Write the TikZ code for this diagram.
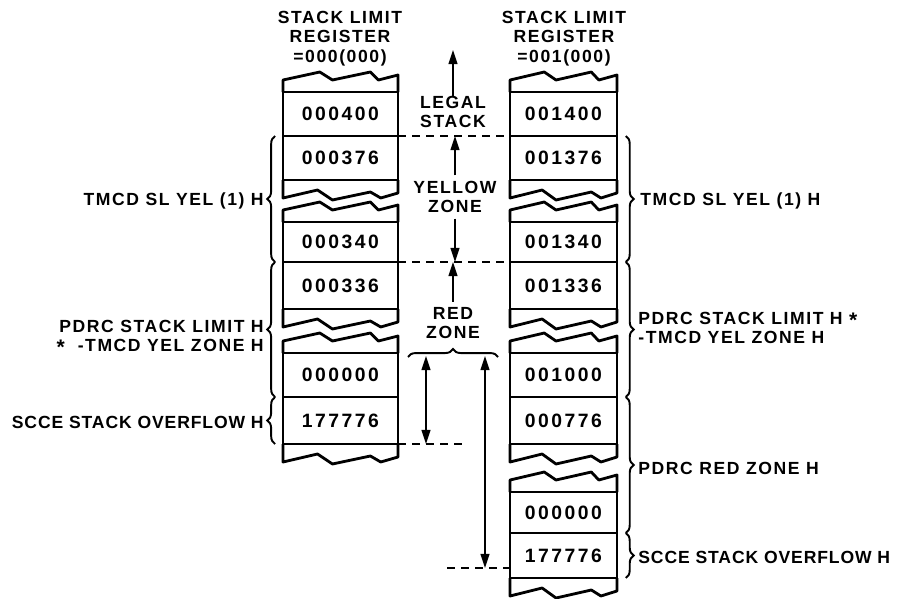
\documentclass[tikz,border=0pt]{standalone}
\usepackage{fontspec}
\setmainfont{Liberation Sans}[LetterSpace=9]
\newfontfamily\numfam{Liberation Sans}[LetterSpace=13]
\newfontfamily\tightfam{Liberation Sans}[LetterSpace=5]
\usetikzlibrary{arrows.meta,calc,decorations.pathreplacing}

\tikzset{
  col/.style={line width=1.6pt, line join=round},
  cell/.style={draw, line width=1.6pt, inner sep=0pt, outer sep=0pt,
    font=\numfam\bfseries\fontsize{11}{12}\selectfont},
  lcell/.style={cell, minimum width=2.3cm},
  rcell/.style={cell, minimum width=2.14cm},
  lbl/.style={font=\bfseries\fontsize{10}{11}\selectfont, inner sep=0pt},
  limit/.style={dash pattern=on 4.5pt off 3.5pt, line width=1.1pt},
  arr/.style={line width=1.1pt, -{Triangle[length=8pt,width=5pt]}},
  darr/.style={line width=1.1pt, {Triangle[length=8pt,width=5pt]}-{Triangle[length=8pt,width=5pt]}},
  brc/.style={decorate, decoration={brace, amplitude=4.5pt}, line width=1.1pt},
}

% torn edge below a cell
\newcommand{\brkbot}[1]{%
  \draw[col] (#1.south west) -- ++(0,18)
    -- ($(#1.south west)!.30!(#1.south east)+(0,10)$)
    -- ($(#1.south west)!.43!(#1.south east)+(0,20)$)
    -- ($(#1.south west)!.76!(#1.south east)+(0,12)$)
    -- ($(#1.south west)!.85!(#1.south east)+(0,18)$)
    -- ($(#1.south east)+(0,13)$) -- (#1.south east);}
% torn edge above a cell
\newcommand{\brktop}[1]{%
  \draw[col] (#1.north west) -- ++(0,-12)
    -- ($(#1.north west)!.32!(#1.north east)+(0,-20)$)
    -- ($(#1.north west)!.43!(#1.north east)+(0,-12)$)
    -- ($(#1.north west)!.76!(#1.north east)+(0,-20)$)
    -- ($(#1.north west)!.83!(#1.north east)+(0,-12)$)
    -- ($(#1.north east)+(0,-17)$) -- (#1.north east);}

\begin{document}
\begin{tikzpicture}[x=0.02cm, y=-0.02cm]
  \useasboundingbox (0,0) rectangle (907,599);

  % headers
  \node[lbl, align=center] (lhead) at (340,38.5) {STACK LIMIT\\REGISTER\\=000(000)};
  \node[lbl, align=center] (rhead) at (564,38.5) {STACK LIMIT\\REGISTER\\=001(000)};

  % left stack
  \node[lcell, minimum height=0.88cm] (L400) at (340.5,114) {000400};
  \node[lcell, minimum height=0.88cm] (L376) at (340.5,158) {000376};
  \node[lcell, minimum height=0.80cm] (L340) at (340.5,242) {000340};
  \node[lcell, minimum height=0.94cm] (L336) at (340.5,285.5) {000336};
  \node[lcell, minimum height=0.88cm] (L000) at (340.5,375) {000000};
  \node[lcell, minimum height=0.94cm] (L776) at (340.5,420.5) {177776};
  \brktop{L400} \brkbot{L376} \brktop{L340}
  \brkbot{L336} \brktop{L000} \brkbot{L776}

  % right stack
  \node[rcell, minimum height=0.88cm] (R400) at (563.5,114) {001400};
  \node[rcell, minimum height=0.88cm] (R376) at (563.5,158) {001376};
  \node[rcell, minimum height=0.80cm] (R340) at (563.5,242) {001340};
  \node[rcell, minimum height=0.94cm] (R336) at (563.5,285.5) {001336};
  \node[rcell, minimum height=0.88cm] (R000) at (563.5,375) {001000};
  \node[rcell, minimum height=0.94cm] (R776) at (563.5,420.5) {000776};
  \node[rcell, minimum height=0.82cm] (R0) at (563.5,512.5) {000000};
  \node[rcell, minimum height=0.90cm] (R7) at (563.5,555.5) {177776};
  \brktop{R400} \brkbot{R376} \brktop{R340} \brkbot{R336}
  \brktop{R000} \brkbot{R776} \brktop{R0} \brkbot{R7}

  % zone limits
  \draw[limit] (L400.south east) -- coordinate (ylim) (R400.south west);
  \draw[limit] (L340.south east) -- coordinate (rlim) (R340.south west);
  \draw[limit] (L776.south east) -- ++(64,0) coordinate (ovl);
  \coordinate (rzd) at (447,568);
  \draw[limit] (rzd) -- (rzd -| R7.west);

  % zone names
  \node[lbl, align=center] (legal) at (453,112) {LEGAL\\STACK};
  \node[lbl, align=center] (yellow) at (455,197) {YELLOW\\ZONE};
  \node[lbl, align=center] (redz) at (453,323) {RED\\ZONE};
  \coordinate (stacktop) at (453,50);
  \draw[arr] (legal.north) -- (legal.north |- stacktop);
  \draw[arr, shorten <=3pt] (yellow.north) -- (yellow.north |- ylim);
  \draw[arr, shorten <=3pt] (yellow.south) -- (yellow.south |- rlim);
  \draw[arr, shorten <=3pt] (redz.north) -- (redz.north |- rlim);

  \coordinate (rzl) at (408,357);
  \coordinate (rzr) at (498,357);
  \draw[brc] (rzl) -- (rzr);
  \coordinate (ovt) at (426,356);
  \draw[darr] (ovt) -- (ovt |- ovl);
  \coordinate (rzt) at (485,356);
  \draw[darr] (rzt) -- (rzt |- rzd);

  % left braces and labels
  \draw[brc] ([xshift=-4.5pt]L340.south west) -- ([xshift=-4.5pt]L376.north west);
  \draw[brc] ([xshift=-4.5pt]L000.south west) -- ([xshift=-4.5pt]L336.north west);
  \draw[brc] ([xshift=-4.5pt]L776.south west) -- ([xshift=-4.5pt]L776.north west);
  \node[lbl, anchor=east] (ltmcd) at (264,201) {TMCD SL YEL (1) H};
  \node[lbl, anchor=east, align=right] (lpdrc) at (264,337.5)
    {PDRC STACK LIMIT H\\\raisebox{-.3ex}{\large *} \ -TMCD YEL ZONE H};
  \node[lbl, anchor=east] (lscce) at (264,422) {\tightfam SCCE STACK OVERFLOW H};

  % right braces and labels
  \draw[brc] ([xshift=5pt]R376.north east) -- ([xshift=5pt]R340.south east);
  \draw[brc] ([xshift=5pt]R336.north east) -- ([xshift=5pt]R000.south east);
  \draw[brc] ([xshift=5pt]R776.north east) -- ([xshift=5pt]R0.south east);
  \draw[brc] ([xshift=5pt]R7.north east) -- ([xshift=5pt]R7.south east);
  \node[lbl, anchor=west] (rtmcd) at (640,201) {TMCD SL YEL (1) H};
  \node[lbl, anchor=west, align=left] (rpdrc) at (638,328)
    {PDRC STACK LIMIT H \raisebox{-.3ex}{\large *}\\-TMCD YEL ZONE H};
  \node[lbl, anchor=west] (rred) at (638,468) {PDRC RED ZONE H};
  \node[lbl, anchor=west] (rscce) at (638,557) {\tightfam SCCE STACK  OVERFLOW H};
\end{tikzpicture}
\end{document}
